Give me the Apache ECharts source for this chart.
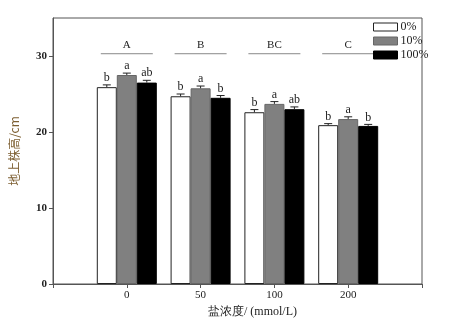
<!DOCTYPE html>
<html><head><meta charset="utf-8">
<script src="https://cdn.jsdelivr.net/npm/echarts@6/dist/echarts.min.js"></script>
<style>html,body{margin:0;padding:0;background:#fff}#c{width:450px;height:330px}</style>
</head><body><div id="c"></div>
<script>
var categories = ['', '0', '50', '100', '200', ''];
var seriesNames = ['0%', '10%', '100%'];
var v0 = [25.9, 24.7, 22.6, 20.9];
var v10 = [27.5, 25.75, 23.7, 21.7];
var v100 = [26.5, 24.5, 23.0, 20.8];
var e0 = [0.3, 0.3, 0.35, 0.2];
var e10 = [0.25, 0.3, 0.3, 0.3];
var e100 = [0.3, 0.3, 0.3, 0.2];
var l0 = ['b', 'b', 'b', 'b'];
var l10 = ['a', 'a', 'a', 'a'];
var l100 = ['ab', 'b', 'ab', 'b'];
var groupLetters = ['A', 'B', 'BC', 'C'];
var groupLineY = [30.3, 30.3, 30.3, 30.3];
var yTicks = [0, 10, 20, 30];

var serif = "'Liberation Serif','Times New Roman',serif";
var chart = echarts.init(document.getElementById('c'));
function pad(a){ return ['-'].concat(a).concat(['-']); }
var colors = ['#ffffff', '#808080', '#000000'];
var borders = ['#222', '#666', '#000'];
var vals = [v0, v10, v100], errs = [e0, e10, e100], lets = [l0, l10, l100];
var series = [];
seriesNames.forEach(function(n, i){
  series.push({
    name: n, type: 'bar', data: pad(vals[i]), barWidth: 20, barGap: '0%',
    itemStyle: {color: colors[i], borderColor: borders[i], borderWidth: 1}
  });
});
seriesNames.forEach(function(n, i){
  var d = vals[i].map(function(v, k){ return [k+1, v, errs[i][k], lets[i][k]]; });
  series.push({
    type: 'custom', data: d, z: 5, silent: true,
    renderItem: (function(off){ return function(params, api){
      var x = api.value(0), v = api.value(1), e = api.value(2);
      var p0 = api.coord([x, v]), p1 = api.coord([x, v + e]);
      var cx = p0[0] + off;
      return {type: 'group', children: [
        {type: 'line', shape: {x1: cx, y1: p0[1], x2: cx, y2: p1[1]}, style: {stroke: '#222', lineWidth: 1}},
        {type: 'line', shape: {x1: cx-4, y1: p1[1], x2: cx+4, y2: p1[1]}, style: {stroke: '#222', lineWidth: 1}},
        {type: 'text', style: {text: d[params.dataIndex][3], x: cx, y: p1[1]-1, textAlign: 'center', textVerticalAlign: 'bottom', font: '12px ' + serif, fill: '#222'}}
      ]};
    }; })((i-1)*20)
  });
});
series.push({
  type: 'custom', silent: true, z: 3,
  data: groupLetters.map(function(g, k){ return [k+1, groupLineY[k], g]; }),
  renderItem: function(params, api){
    var p = api.coord([api.value(0), api.value(1)]);
    return {type: 'group', children: [
      {type: 'line', shape: {x1: p[0]-26, y1: p[1], x2: p[0]+26, y2: p[1]}, style: {stroke: '#888', lineWidth: 1}},
      {type: 'text', style: {text: groupLetters[params.dataIndex], x: p[0], y: p[1]-3, textAlign: 'center', textVerticalAlign: 'bottom', font: '11px ' + serif, fill: '#222'}}
    ]};
  }
});

chart.setOption({
  animation: false,
  backgroundColor: '#fff',
  grid: {left: 53, right: 28, top: 18, bottom: 46, show: true, borderColor: '#555', borderWidth: 1},
  legend: {
    data: seriesNames, orient: 'vertical', left: 368, top: 16, itemWidth: 24, itemHeight: 8, itemGap: 2,
    icon: 'rect',
    itemStyle: {borderWidth: 1},
    textStyle: {fontFamily: serif, fontSize: 12, color: '#222', padding: [0,0,0,-2]},
    backgroundColor: 'rgba(255,255,255,0)'
  },
  xAxis: {
    type: 'category', data: categories, boundaryGap: false,
    name: '盐浓度/ (mmol/L)', nameLocation: 'middle', nameGap: 20,
    nameTextStyle: {fontFamily: serif, fontSize: 12, color: '#222', padding: [0,0,0,30]},
    axisLine: {lineStyle: {color: '#555'}},
    axisTick: {show: true, length: 4, lineStyle: {color: '#555'}, interval: 0},
    axisLabel: {fontFamily: serif, fontSize: 11, color: '#222', margin: 6, interval: 0},
    splitLine: {show: false}
  },
  yAxis: {
    type: 'value', min: 0, max: 35, interval: 10,
    name: '地上株高/cm', nameLocation: 'middle', nameGap: 33,
    nameTextStyle: {fontSize: 12, color: '#7d5f32', fontFamily: "'Noto Sans CJK SC',sans-serif"},
    axisLine: {show: true, lineStyle: {color: '#555'}},
    axisTick: {show: true, length: 4, lineStyle: {color: '#555'}, customValues: yTicks},
    axisLabel: {fontFamily: serif, fontSize: 11, fontWeight: 'bold', color: '#222', margin: 6, customValues: yTicks},
    splitLine: {show: false}
  },
  series: series
});
</script></body></html>
